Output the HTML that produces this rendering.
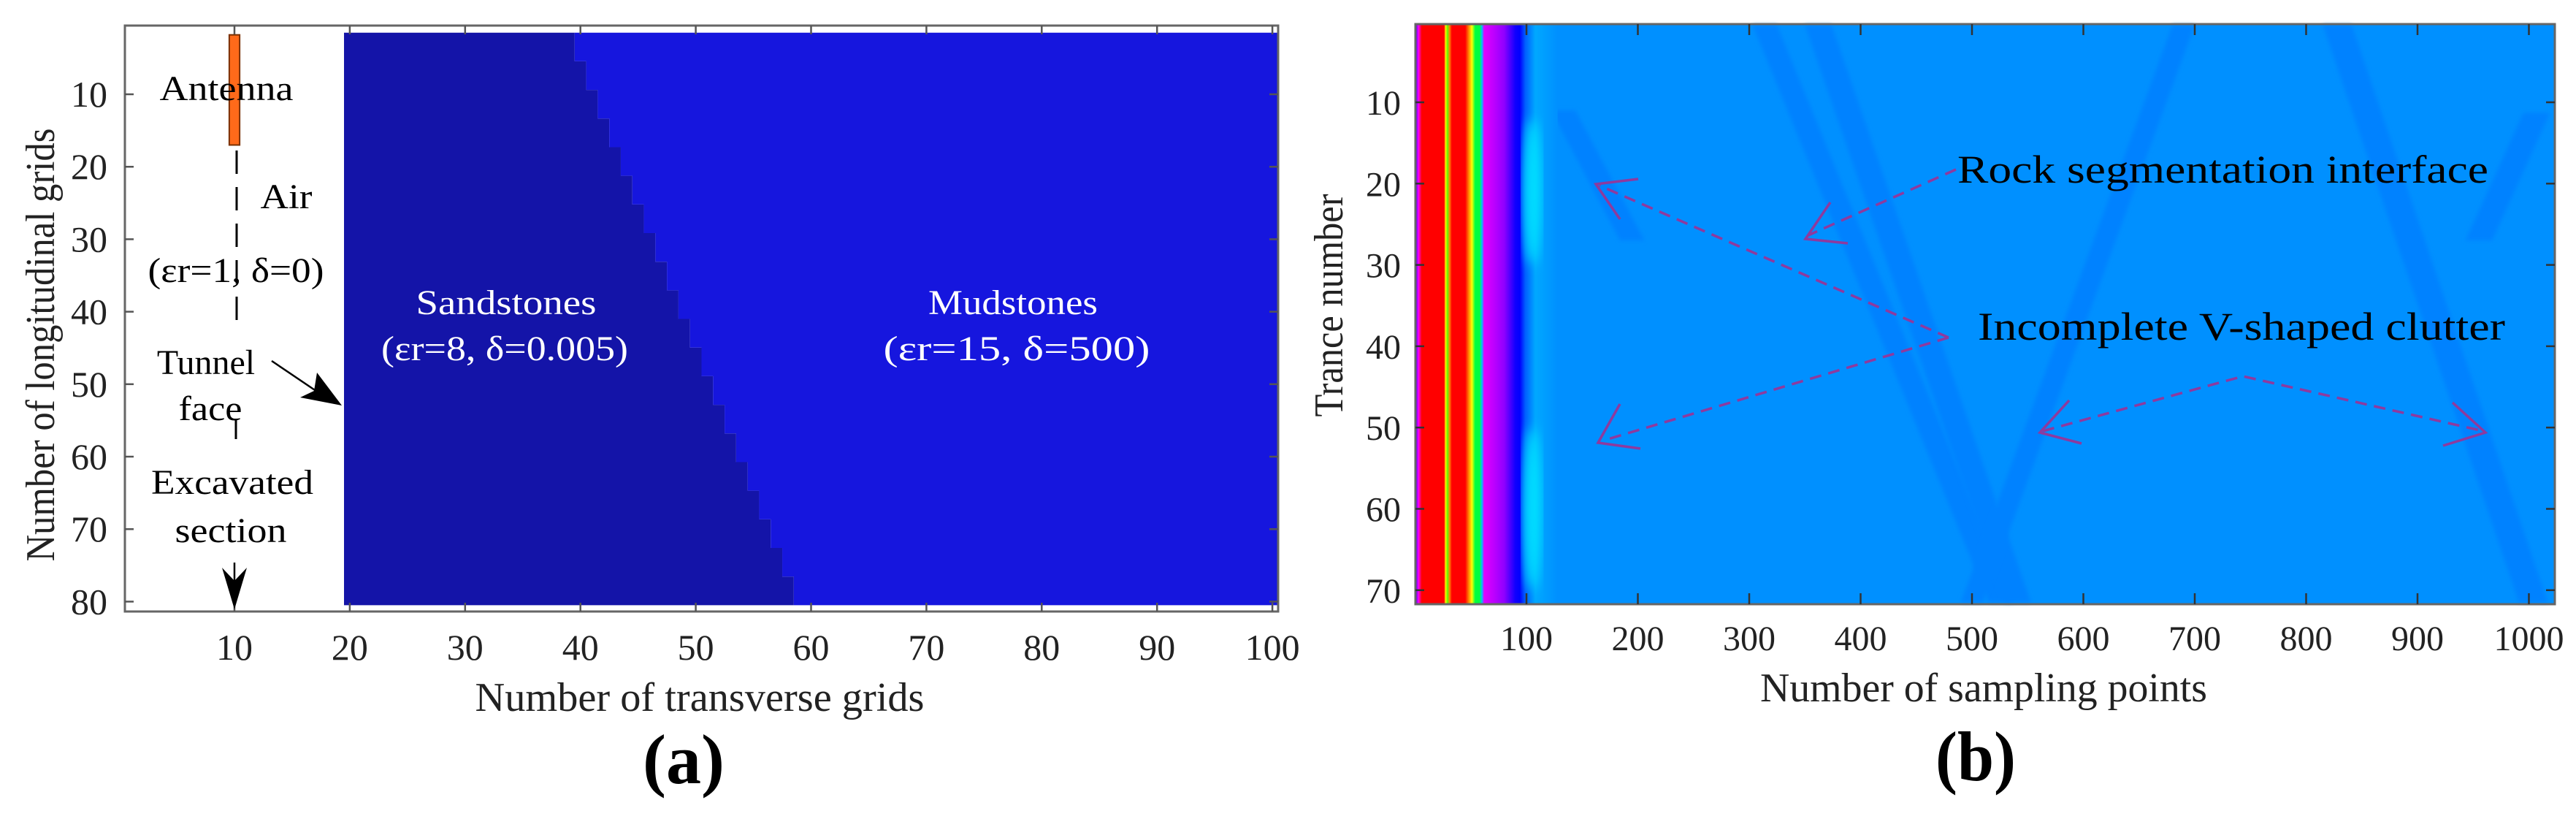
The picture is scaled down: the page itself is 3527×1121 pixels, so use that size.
<!DOCTYPE html>
<html><head><meta charset="utf-8">
<style>
html,body{margin:0;padding:0;background:#fff;}
svg{display:block;}
text{font-family:"Liberation Serif",serif;}
</style></head>
<body>
<svg id="fig" width="3527" height="1121" viewBox="0 0 3527 1121" xmlns="http://www.w3.org/2000/svg">
<defs>
  <linearGradient id="stripes" x1="0" x2="1" y1="0" y2="0" gradientUnits="objectBoundingBox"></linearGradient>
  <filter id="blur8"><feGaussianBlur stdDeviation="8"/></filter>
  <filter id="blur3"><feGaussianBlur stdDeviation="3"/></filter>
</defs>
<g id="panelA"></g>
<g id="panelB"></g>
</svg>
<script>
// ---------- Panel (a) data ----------
const aXTicks = [10,20,30,40,50,60,70,80,90,100];
const aYTicks = [10,20,30,40,50,60,70,80];
const airEnd = 19.5;
const layerTopRow = 1.5, layerBottomRow = 80.5;
const boundaryCols = [39.5,40.5,41.5,42.5,43.5,44.5,45.5,46.5,47.5,48.5,49.5,50.5,51.5,52.5,53.5,54.5,55.5,56.5,57.5,58.5];
const antenna = {col0:9.55,col1:10.45,row0:1.8,row1:17};
// ---------- Panel (b) data ----------
const bXTicks = [100,200,300,400,500,600,700,800,900,1000];
const bYTicks = [10,20,30,40,50,60,70];
const stripeSamples = [0,3,6,26,27.5,29,31,33,45,48,51,54,58,60,62,70,80,90,94,99,108,128];
const stripeColors = ["#0000ff","#ff00ff","#ff0000","#ff0000","#ffff00","#60ff00","#ff8000","#ff0000","#ff0000","#ff8000","#ffff00","#00ff40","#00ff40","#00c0ff","#e000ff","#c000ff","#9000ff","#1000ff","#0000ff","#0060ff","#00a8ff","#0090ff"];
const bandTop = [[133,11],[314,0.5],[362,0.5],[690,0.5],[828,0.5],[1007,11.3]];
const bandBottom = [[195,27],[526,71.5],[541,71.5],[500,71.5],[1004,71.5],[955,27]];
const bandWidth = [22,22,24,20,26,24];

const NS="http://www.w3.org/2000/svg";
function mk(tag, attrs, parent){const e=document.createElementNS(NS,tag);for(const k in attrs)e.setAttribute(k,attrs[k]);parent.appendChild(e);return e;}

(function(){
const g=document.getElementById('panelA');
const L=171,R=1750,T=35,B=837;
const ax=v=>171+(v-0.5)*15.79;
const ay=v=>35+(v-0.52)*9.92;
let sand=[[ax(airEnd),ay(layerTopRow)]];
const bandH=(layerBottomRow-layerTopRow)/boundaryCols.length;
let stair=[];
boundaryCols.forEach((c,i)=>{const r0=layerTopRow+i*bandH,r1=r0+bandH;stair.push([ax(c),ay(r0)]);stair.push([ax(c),ay(r1)]);});
sand=sand.concat(stair).concat([[ax(airEnd),ay(layerBottomRow)]]);
const sandP=mk('polygon',{points:sand.map(p=>p.join(',')).join(' '),fill:'#1414a8'},g);


const mud=stair.slice().concat([[ax(100.5),ay(layerBottomRow)],[ax(100.5),ay(layerTopRow)]]);
const mudP=mk('polygon',{points:mud.map(p=>p.join(',')).join(' '),fill:'#1616de'},g);


const ant=mk('rect',{x:ax(antenna.col0),y:ay(antenna.row0),width:ax(antenna.col1)-ax(antenna.col0),height:ay(antenna.row1)-ay(antenna.row0),fill:'#ff6a1a',stroke:'#7a3000','stroke-width':2},g);


const dl=mk('line',{x1:324,y1:206,x2:324,y2:445,stroke:'#000','stroke-width':3,'stroke-dasharray':'32,18'},g);


const tl=mk('line',{x1:323,y1:573,x2:323,y2:601,stroke:'#000','stroke-width':3},g);


const fr=mk('rect',{x:L,y:T,width:R-L,height:B-T,fill:'none',stroke:'#666','stroke-width':3},g);


aXTicks.forEach(v=>{
  mk('line',{x1:ax(v),y1:B,x2:ax(v),y2:B-12,stroke:'#555','stroke-width':2.5},g);
  mk('line',{x1:ax(v),y1:T,x2:ax(v),y2:T+12,stroke:'#555','stroke-width':2.5},g);
  const t=mk('text',{x:ax(v),y:903,'text-anchor':'middle','font-size':50,fill:'#222'},g);
  t.textContent=v;
  
  
});
aYTicks.forEach(v=>{
  mk('line',{x1:L,y1:ay(v),x2:L+12,y2:ay(v),stroke:'#555','stroke-width':2.5},g);
  mk('line',{x1:R,y1:ay(v),x2:R-12,y2:ay(v),stroke:'#555','stroke-width':2.5},g);
  const t=mk('text',{x:147,y:ay(v)+17,'text-anchor':'end','font-size':50,fill:'#222'},g);
  t.textContent=v;
  
  
});
})();

(function(){
const g=document.getElementById('panelB');
const L=1938,R=3498,T=33,B=827;
const bx=s=>1937.5+s*1.525;
const by=t=>140+(t-10)*11.13;
const bg=mk('rect',{x:L,y:T,width:R-L,height:B-T,fill:'#0090ff'},g);


bandTop.forEach((tp,i)=>{
  const bt=bandBottom[i],w=bandWidth[i]*1.525/2;
  const pts=[[bx(tp[0])-w,by(tp[1])],[bx(tp[0])+w,by(tp[1])],[bx(bt[0])+w,by(bt[1])],[bx(bt[0])-w,by(bt[1])]];
  const p=mk('polygon',{points:pts.map(q=>q.join(',')).join(' '),fill:'#0082ff',filter:'url(#blur3)'},g);
  
  
});
const grad=document.getElementById('stripes');
const s0=stripeSamples[0],s1=stripeSamples[stripeSamples.length-1];
stripeSamples.forEach((s,i)=>{mk('stop',{offset:((s-s0)/(s1-s0)).toFixed(4),'stop-color':stripeColors[i]},grad);});
const sr=mk('rect',{x:bx(s0),y:T,width:bx(s1)-bx(s0),height:B-T,fill:'url(#stripes)'},g);


[[12,30],[50,70]].forEach(r=>{
  const e=mk('ellipse',{cx:bx(105),cy:(by(r[0])+by(r[1]))/2,rx:13,ry:(by(r[1])-by(r[0]))/2,fill:'#00e8ff',opacity:0.9,filter:'url(#blur8)'},g);
  
  
});
const fr=mk('rect',{x:L,y:T,width:R-L,height:B-T,fill:'none',stroke:'#666','stroke-width':3},g);


bXTicks.forEach(v=>{
  mk('line',{x1:bx(v),y1:B,x2:bx(v),y2:B-15,stroke:'#333','stroke-width':2.5},g);
  mk('line',{x1:bx(v),y1:T,x2:bx(v),y2:T+15,stroke:'#333','stroke-width':2.5},g);
  const t=mk('text',{x:bx(v),y:890,'text-anchor':'middle','font-size':48,fill:'#222'},g);
  t.textContent=v;
  
  
});
bYTicks.forEach(v=>{
  mk('line',{x1:L,y1:by(v),x2:L+12,y2:by(v),stroke:'#333','stroke-width':2.5},g);
  mk('line',{x1:R,y1:by(v),x2:R-12,y2:by(v),stroke:'#333','stroke-width':2.5},g);
  const t=mk('text',{x:1918,y:by(v)+17,'text-anchor':'end','font-size':48,fill:'#222'},g);
  t.textContent=v;
  
  
});
})();
</script>
<svg width="3527" height="1121" viewBox="0 0 3527 1121" xmlns="http://www.w3.org/2000/svg" style="position:absolute;left:0;top:0">
  <g font-family="Liberation Serif, serif" font-size="48" fill="#000" text-anchor="middle">
    <text x="310" y="137" textLength="183" lengthAdjust="spacingAndGlyphs">Antenna</text>
    <text x="392" y="285" textLength="71" lengthAdjust="spacingAndGlyphs">Air</text>
    <text x="323" y="386" textLength="241" lengthAdjust="spacingAndGlyphs">(εr=1, δ=0)</text>
    <text x="282" y="512">Tunnel</text>
    <text x="288" y="575" textLength="87" lengthAdjust="spacingAndGlyphs">face</text>
    <text x="318" y="676" textLength="222" lengthAdjust="spacingAndGlyphs">Excavated</text>
    <text x="316" y="742" textLength="153" lengthAdjust="spacingAndGlyphs">section</text>
  </g>
  <g font-family="Liberation Serif, serif" font-size="48" fill="#fff" text-anchor="middle">
    <text x="693" y="430" textLength="247" lengthAdjust="spacingAndGlyphs">Sandstones</text>
    <text x="691" y="493" textLength="338" lengthAdjust="spacingAndGlyphs">(εr=8, δ=0.005)</text>
    <text x="1387" y="430" textLength="232" lengthAdjust="spacingAndGlyphs">Mudstones</text>
    <text x="1392" y="493" textLength="365" lengthAdjust="spacingAndGlyphs">(εr=15, δ=500)</text>
  </g>
  <line x1="372" y1="494" x2="440" y2="540" stroke="#000" stroke-width="2.5"/>
  <polygon points="468,555 411,544 430,535 434,510" fill="#000"/>
  <line x1="321" y1="770" x2="321" y2="800" stroke="#000" stroke-width="2.5"/>
  <polygon points="304,777 321,795 338,777 321,834" fill="#000"/>
  <text x="958" y="973" text-anchor="middle" font-size="56" fill="#222" textLength="615" lengthAdjust="spacingAndGlyphs">Number of transverse grids</text>
  <text transform="translate(74,472) rotate(-90)" x="0" y="0" text-anchor="middle" font-size="56" fill="#222" textLength="593" lengthAdjust="spacingAndGlyphs">Number of longitudinal grids</text>
  <text x="936" y="1072" text-anchor="middle" font-size="96" font-weight="bold" fill="#000" textLength="112" lengthAdjust="spacingAndGlyphs">(a)</text>
  <text x="2716" y="960" text-anchor="middle" font-size="56" fill="#222" textLength="612" lengthAdjust="spacingAndGlyphs">Number of sampling points</text>
  <text transform="translate(1838,418) rotate(-90)" x="0" y="0" text-anchor="middle" font-size="56" fill="#222" textLength="305" lengthAdjust="spacingAndGlyphs">Trance number</text>
  <text x="2705" y="1068" text-anchor="middle" font-size="96" font-weight="bold" fill="#000" textLength="110" lengthAdjust="spacingAndGlyphs">(b)</text>
  <text x="2680" y="250" font-size="54" fill="#000" textLength="727" lengthAdjust="spacingAndGlyphs">Rock segmentation interface</text>
  <text x="2708" y="465" font-size="54" fill="#000" textLength="722" lengthAdjust="spacingAndGlyphs">Incomplete V-shaped clutter</text>
  <g stroke="#8e3a9e" stroke-width="3.5" fill="none">
    <line x1="2678" y1="232" x2="2476" y2="322" stroke-dasharray="16,10"/>
    <polyline points="2506,277 2472,327 2530,333"/>
    <line x1="2668" y1="462" x2="2190" y2="254" stroke-dasharray="16,10"/>
    <polyline points="2243,245 2185,252 2218,300"/>
    <line x1="2668" y1="462" x2="2195" y2="603" stroke-dasharray="16,10"/>
    <polyline points="2218,553 2188,606 2246,614"/>
    <polyline points="2797,590 3071,515 3400,590" stroke-dasharray="16,10"/>
    <polyline points="2833,548 2793,592 2850,607"/>
    <polyline points="3358,551 3403,592 3345,610"/>
  </g>
</svg>
</body></html>
